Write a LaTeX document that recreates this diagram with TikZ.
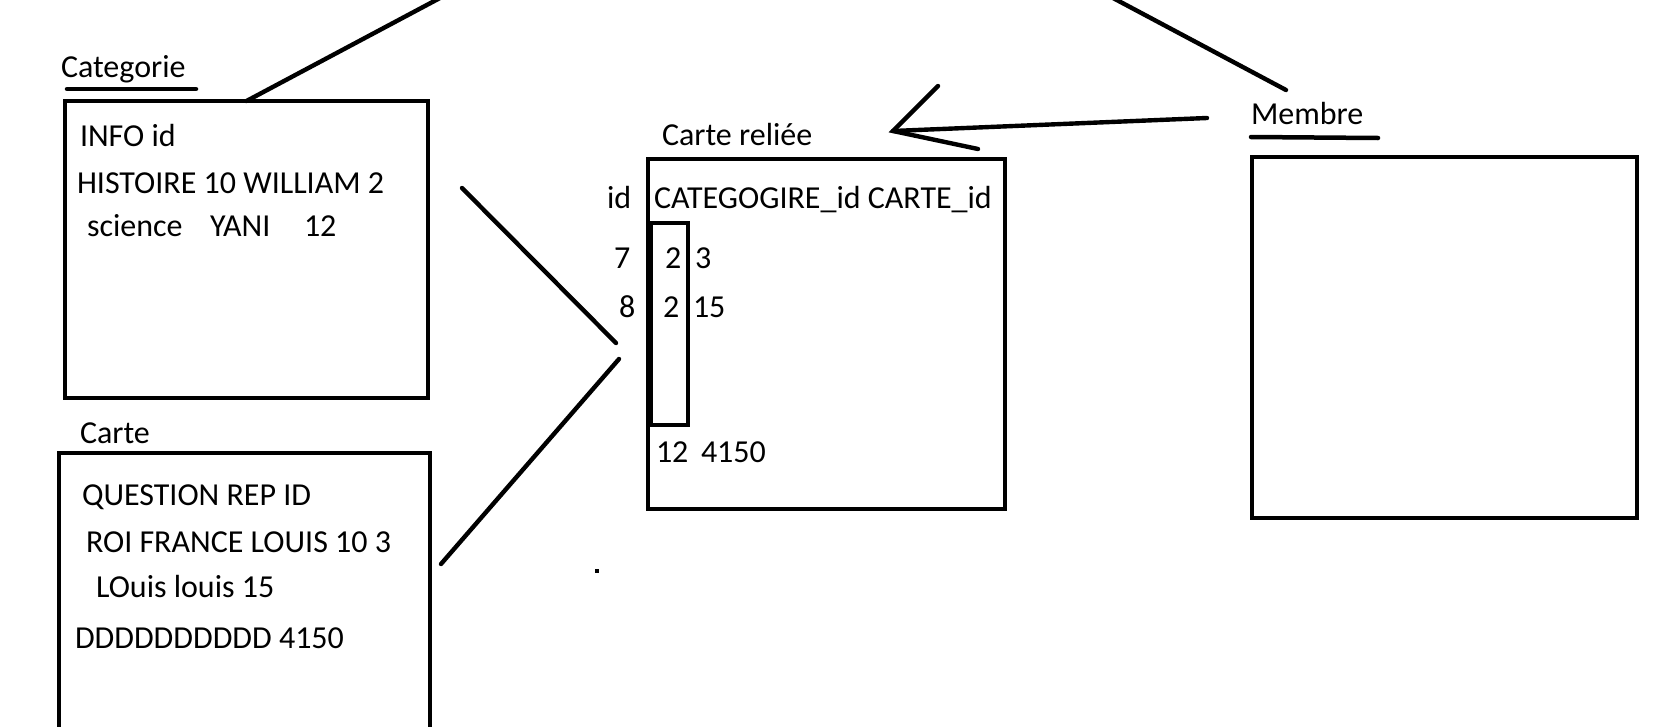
\documentclass[tikz,border=0pt]{standalone}
\usepackage{fontspec}
\setmainfont{Carlito}
\begin{document}
\begin{tikzpicture}[x=1pt,y=-1pt,
  box/.style={draw, line width=4.8pt, inner sep=0pt, outer sep=0pt},
  conn/.style={line width=4.4pt, line cap=round},
  uline/.style={line width=4.5pt, line cap=round},
  txt/.style={anchor=base west, inner sep=0pt, outer sep=0pt, font=\fontsize{32}{38}\selectfont}]
\useasboundingbox (0,0) rectangle (1673,726);
\clip (0,0) rectangle (1673,726);
\fill[white] (0,0) rectangle (1673,726);

% boxes
\node[box, minimum width=363pt, minimum height=297pt] (cat) at (246.5,249.5) {};
\node[box, minimum width=371pt, minimum height=307pt] (carte) at (244.5,606.5) {};
\node[box, minimum width=357pt, minimum height=350pt] (rel) at (826.5,334) {};
\node[box, line width=4.4pt, minimum width=37pt, minimum height=202pt] (inner) at (669.5,324) {};
\node[box, minimum width=385pt, minimum height=361pt] (mem) at (1444.5,337.5) {};

% labels
\node[txt] (catlbl) at (61,77) {Categorie};
\node[txt] (cartelbl) at (80,443) {Carte};
\node[txt] (rellbl) at (662,145) {Carte reliée};
\node[txt] (memlbl) at (1251,124) {Membre};

% underlines
\coordinate (u1a) at (67,89);
\coordinate (u1b) at (196,89);
\coordinate (u2a) at (1251,137);
\coordinate (u2b) at (1378,138);
\draw[uline] (u1a) -- (u1b);
\draw[uline] (u2a) -- (u2b);

% Categorie contents
\node[txt] (c1) at (80,146) {INFO id};
\node[txt] (c2) at (77,193) {HISTOIRE 10 WILLIAM 2};
\node[txt] (c3a) at (87,236) {science};
\node[txt] (c3b) at (210,236) {YANI};
\node[txt] (c3c) at (304,236) {12};

% Carte contents
\node[txt] (k1) at (82,505) {QUESTION REP ID};
\node[txt] (k2) at (86,552) {ROI FRANCE LOUIS 10 3};
\node[txt] (k3) at (96,597) {LOuis louis 15};
\node[txt] (k4) at (75,648) {DDDDDDDDDD 4150};

% Carte reliee contents
\node[txt] (r0) at (607,208) {id};
\node[txt] (r1) at (654,208) {CATEGOGIRE\_id CARTE\_id};
\node[txt] (r2a) at (614,268) {7};
\node[txt] (r2b) at (665,268) {2};
\node[txt] (r2c) at (695,268) {3};
\node[txt] (r3a) at (619,317) {8};
\node[txt] (r3b) at (663,317) {2};
\node[txt] (r3c) at (693,317) {15};
\node[txt] (r4a) at (656,462) {12};
\node[txt] (r4b) at (701,462) {4150};

% connectors
\coordinate (tl) at (455,-10);
\coordinate (tr1) at (1098,-10);
\coordinate (tr2) at (1286,90);
\coordinate (a1) at (462,188);
\coordinate (a2) at (616,343);
\coordinate (b1) at (441,564);
\coordinate (b2) at (619,359);
\coordinate (arS) at (1207,118);
\coordinate (arT) at (893,131);
\coordinate (arU) at (938,86);
\coordinate (arL) at (978,149);
\draw[conn] (cat.north) -- (tl);
\draw[conn] (tr1) -- (tr2);
\draw[conn] (a1) -- (a2);
\draw[conn] (b1) -- (b2);
\draw[conn] (arS) -- (arT);
\draw[conn] (arU) -- (arT) -- (arL);

% dot
\node[fill=black, minimum size=4.5pt, inner sep=0pt] (dot) at (597,571) {};
\end{tikzpicture}
\end{document}
